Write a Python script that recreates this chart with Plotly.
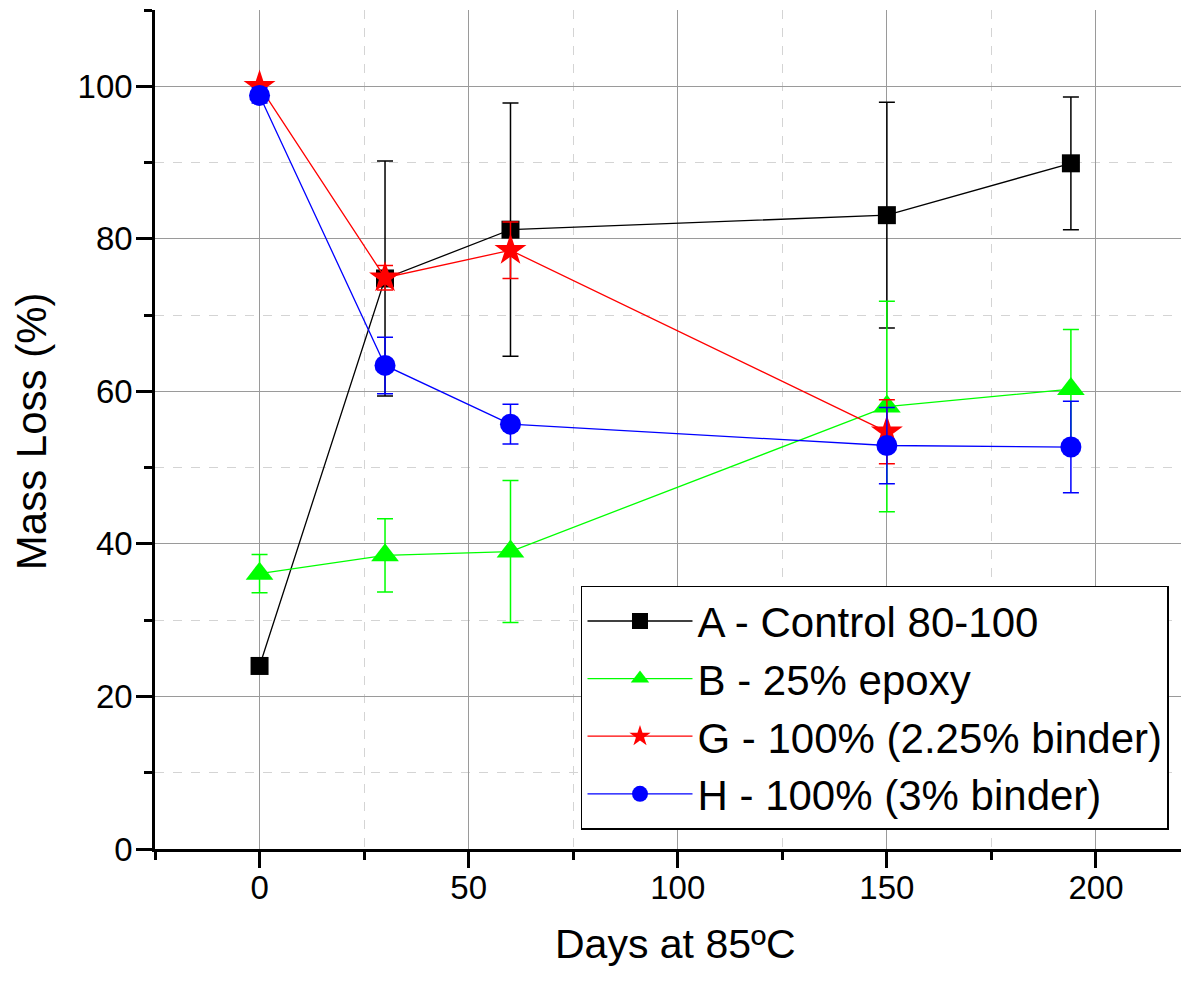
import plotly.graph_objects as go

# days at 85 C
dias = [0, 30, 60, 150, 194]

serie_a = [24.0, 74.8, 81.2, 83.1, 89.9]
erro_a = [0.8, 15.4, 16.6, 14.8, 8.7]

serie_b = [36.1, 38.5, 39.0, 58.0, 60.3]
erro_b = [2.5, 4.8, 9.3, 13.8, 7.8]

serie_g = [100.0, 74.9, 78.5, 54.7]
erro_g = [0.6, 1.6, 3.7, 4.2]

serie_h = [98.8, 63.4, 55.7, 52.9, 52.7]
erro_h = [1.0, 3.7, 2.6, 5.0, 6.0]

nomes = ['A - Control 80-100', 'B - 25% epoxy',
         'G - 100% (2.25% binder)', 'H - 100% (3% binder)']

fonte = 'Liberation Sans, Arial, sans-serif'

fig = go.Figure()


def adiciona(x, y, erro, nome, cor, simbolo, tamanho):
    fig.add_trace(go.Scatter(
        x=x,
        y=y,
        name=nome,
        mode='lines+markers',
        line=dict(color=cor, width=1.3),
        marker=dict(symbol=simbolo, size=tamanho, color=cor,
                    line=dict(color=cor, width=0)),
        error_y=dict(type='data', array=erro, visible=True,
                     color=cor, thickness=1.5, width=8),
    ))


adiciona(dias, serie_a, erro_a, nomes[0], 'black', 'square', 18)
adiciona(dias, serie_b, erro_b, nomes[1], '#00ff00', 'triangle-up', 24)
adiciona(dias[:4], serie_g, erro_g, nomes[2], 'red', 'star', 24)
adiciona(dias, serie_h, erro_h, nomes[3], 'blue', 'circle', 21)

# a pagina tem margem de 8px no body, por isso l/t menores e r/b maiores
fig.update_layout(
    width=1189,
    height=981,
    margin=dict(l=147, r=9, t=2, b=140),
    paper_bgcolor='white',
    plot_bgcolor='white',
    font=dict(family=fonte, size=33, color='black'),
    showlegend=True,
    legend=dict(
        x=0.9816, y=0.023, xanchor='right', yanchor='bottom',
        bgcolor='white', bordercolor='black', borderwidth=1.5,
        font=dict(size=42), itemwidth=105, tracegroupgap=0,
    ),
    annotations=[
        dict(text='Days at 85ºC', xref='paper', yref='paper',
             x=0.504, y=0, xanchor='center', yanchor='middle', yshift=-95,
             showarrow=False, font=dict(size=41)),
        dict(text='Mass Loss (%)', xref='paper', yref='paper',
             x=0, y=0.498, xanchor='center', yanchor='middle', xshift=-124,
             textangle=-90, showarrow=False, font=dict(size=42)),
    ],
)

fig.update_xaxes(
    range=[-25, 222],
    automargin=False,
    tick0=0, dtick=50,
    ticks='outside', ticklen=16, tickwidth=2.5, tickcolor='black',
    ticklabelstandoff=-8,
    showline=True, linecolor='black', linewidth=2.5,
    showgrid=True, gridcolor='#9a9a9a', gridwidth=1,
    zeroline=False,
    minor=dict(dtick=25, tick0=0, ticks='outside', ticklen=8, tickwidth=2.5,
               tickcolor='black', showgrid=True, gridcolor='#d4d4d4',
               griddash='dash', gridwidth=1),
)

fig.update_yaxes(
    range=[0, 110],
    automargin=False,
    tick0=0, dtick=20,
    ticks='outside', ticklen=16, tickwidth=2.5, tickcolor='black',
    ticklabelstandoff=-3,
    showline=True, linecolor='black', linewidth=2.5,
    showgrid=True, gridcolor='#9a9a9a', gridwidth=1,
    zeroline=False,
    minor=dict(dtick=10, tick0=0, ticks='outside', ticklen=8, tickwidth=2.5,
               tickcolor='black', showgrid=True, gridcolor='#d4d4d4',
               griddash='dash', gridwidth=1),
)

fig.write_html('out.html')
